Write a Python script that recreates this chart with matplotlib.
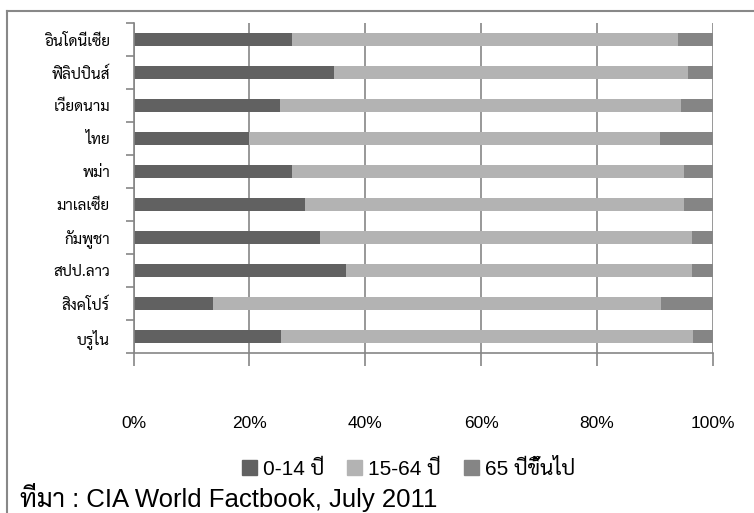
import matplotlib
matplotlib.use("Agg")
import matplotlib.pyplot as plt
import matplotlib.font_manager as fm
from matplotlib.ft2font import FT2Font
from matplotlib.lines import Line2D
from matplotlib.patches import Patch
import numpy as np

countries = ["อินโดนีเซีย", "ฟิลิปปินส์", "เวียดนาม", "ไทย", "พม่า",
             "มาเลเซีย", "กัมพูชา", "สปป.ลาว", "สิงคโปร์", "บรูไน"]
age_0_14 = [27.3, 34.6, 25.2, 19.9, 27.3, 29.6, 32.2, 36.7, 13.8, 25.5]
age_15_64 = [66.5, 61.1, 69.3, 71.0, 67.7, 65.4, 64.1, 59.6, 77.2, 71.0]
age_65 = [6.1, 4.3, 5.5, 9.1, 5.0, 5.0, 3.7, 3.7, 9.0, 3.5]
series_names = ["0-14 ปี", "15-64 ปี", "65 ปีขึ้นไป"]
colors = ["#616161", "#b3b3b3", "#858585"]
source = "ที่มา : CIA World Factbook, July 2011"


def find_thai_font(prefer=("Sarabun", "Thasadith", "Noto Sans Thai Looped")):
    names = []
    for f in fm.fontManager.ttflist:
        try:
            if FT2Font(f.fname).get_char_index(ord("ก")):
                names.append(f.name)
        except Exception:
            pass
    for p in prefer:
        if p in names:
            return p
    return names[0] if names else "DejaVu Sans"


thai = find_thai_font()
latin = "Liberation Sans"

fig = plt.figure(figsize=(7.54, 5.13), dpi=100)
ax = fig.add_axes([133.5 / 754, 1 - 353 / 513, (713 - 133.5) / 754, (353 - 23) / 513])

y = np.arange(len(countries))
total = np.array(age_0_14) + np.array(age_15_64) + np.array(age_65)
left = np.zeros(len(countries))
for vals, name, c in zip([age_0_14, age_15_64, age_65], series_names, colors):
    share = np.array(vals) / total * 100
    ax.barh(y, share, left=left, height=0.4, color=c, label=name, zorder=2)
    left += share

ax.set_xlim(0, 100)
ax.set_ylim(len(countries) - 0.5, -0.5)
ax.set_xticks(np.arange(0, 101, 20))
ax.set_xticklabels([f"{v}%" for v in range(0, 101, 20)], family=[latin, thai], fontsize=12.5)
ax.set_yticks(y)
ax.set_yticklabels(countries, family=[thai, latin], fontsize=11)
ax.set_yticks(np.arange(-0.5, len(countries)), minor=True)
ax.tick_params(axis="y", which="major", length=0, pad=17)
ax.tick_params(axis="y", which="minor", length=6, color="#868686", width=1.2)
ax.tick_params(axis="x", length=9, color="#868686", width=1.2, pad=36)
ax.grid(axis="x", color="#868686", lw=1.2, zorder=0)
ax.set_axisbelow(True)
for s in ["top", "right"]:
    ax.spines[s].set_visible(False)
for s in ["left", "bottom"]:
    ax.spines[s].set_color("#868686")
    ax.spines[s].set_linewidth(1.2)

handles = [Patch(color=c) for c in colors]
fig.legend(handles, series_names, loc="center", bbox_to_anchor=(0.542, 0.086), ncol=3,
           frameon=False, handlelength=0.7, handleheight=0.7, handletextpad=0.3,
           columnspacing=1.1, prop={"family": [latin, thai], "size": 15})

fig.text(20 / 754, 1 - 497 / 513, source, family=[latin, thai], fontsize=18.5, va="center")

fig.add_artist(Line2D([7 / 754, 1], [1 - 11 / 513] * 2, color="#888888", lw=1.5))
fig.add_artist(Line2D([7 / 754] * 2, [0, 1 - 11 / 513], color="#888888", lw=1.5))

fig.savefig("out.png", dpi=100)
